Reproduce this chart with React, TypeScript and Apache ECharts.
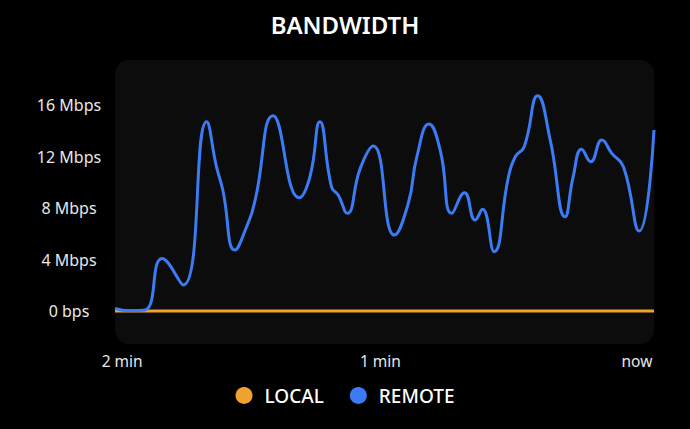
import React, { useEffect, useRef } from "react";
import * as echarts from "echarts";

const timeSeconds = [
  0, 3.3, 6.7, 10.5, 15.2, 20.4, 22.6, 24.0, 26.7, 29.3, 31.2, 35.2, 41.0, 43.4, 45.6,
  48.2, 49.7, 51.7, 54.6, 57.5, 62.2, 65.3, 67.2, 69.9, 72.4, 75.0, 77.8, 80.2, 81.8,
  84.4, 87.6, 89.1, 91.1, 94.1, 96.9, 100.2, 102.0, 103.9, 105.9, 108.4, 110.6, 113.2,
  116.7, 120,
];
const remoteMbps = [
  0.21, 0.02, 0.08, 4.09, 2.02, 14.7, 11.2, 9.4, 4.74, 6.55, 8.62, 15.17, 8.8, 10.43, 14.7,
  9.65, 9.01, 7.59, 11.08, 12.82, 5.9, 8.37, 11.98, 14.52, 12.5, 7.59, 9.19, 7.07, 7.9,
  4.61, 10.43, 11.98, 12.76, 16.72, 13.28, 7.32, 10.43, 12.56, 11.6, 13.28, 12.25, 11.21,
  6.21, 14.06,
];
const localMbps = timeSeconds.map(() => 0);

const xTickValues = [1.6, 59.1, 116.2];
const xTickLabels = ["2 min", "1 min", "now"];
const yTickValues = [0, 4, 8, 12, 16];

const seriesNames = ["LOCAL", "REMOTE"];
const seriesColors = ["#efa22e", "#3b7cf6"];

export default function App() {
  const ref = useRef<HTMLDivElement>(null);
  useEffect(() => {
    if (!ref.current) return;
    const chart = echarts.init(ref.current, null, { renderer: "svg" });
    const font = "Noto Sans";
    chart.setOption({
      animation: false,
      backgroundColor: "#000000",
      title: {
        text: "BANDWIDTH",
        left: "center",
        top: 7,
        textStyle: { color: "#ffffff", fontSize: 24, fontWeight: 600, fontFamily: font },
      },
      legend: {
        data: seriesNames,
        bottom: 19,
        left: "center",
        icon: "circle",
        itemWidth: 17,
        itemHeight: 17,
        itemGap: 26,
        textStyle: {
          color: "#ffffff",
          fontSize: 19,
          fontFamily: font,
          fontWeight: 500,
          padding: [0, 0, 0, 7],
        },
      },
      graphic: [
        {
          type: "rect",
          z: -10,
          silent: true,
          shape: { x: 115, y: 60, width: 539, height: 284, r: 14 },
          style: { fill: "#0c0c0c" },
        },
      ],
      grid: { left: 115, right: 36, top: 60, bottom: 85 },
      xAxis: {
        type: "value",
        min: 0,
        max: 120,
        axisLine: { show: false },
        axisTick: { show: false },
        splitLine: { show: false },
        axisLabel: {
          customValues: xTickValues,
          color: "#e8e8e8",
          fontSize: 15.5,
          fontFamily: font,
          margin: 9,
          formatter: (v: number) => {
            const i = xTickValues.findIndex((x) => Math.abs(x - v) < 1e-6);
            return i >= 0 ? xTickLabels[i] : "";
          },
        },
      },
      yAxis: {
        type: "value",
        min: -2.56,
        max: 19.5,
        axisLine: { show: false },
        axisTick: { show: false },
        splitLine: { show: false },
        axisLabel: {
          customValues: yTickValues,
          color: "#e8e8e8",
          fontSize: 16,
          fontFamily: font,
          margin: 46,
          align: "center",
          formatter: (v: number) => (v === 0 ? "0 bps" : `${v} Mbps`),
        },
      },
      series: [
        {
          name: seriesNames[0],
          type: "line",
          data: timeSeconds.map((t, i) => [t, localMbps[i]]),
          showSymbol: false,
          color: seriesColors[0],
          lineStyle: { width: 3, color: seriesColors[0] },
        },
        {
          name: seriesNames[1],
          type: "line",
          data: timeSeconds.map((t, i) => [t, remoteMbps[i]]),
          showSymbol: false,
          smooth: 0.5,
          color: seriesColors[1],
          lineStyle: { width: 3, color: seriesColors[1] },
        },
      ],
    });
    return () => chart.dispose();
  }, []);
  return (
    <div
      ref={ref}
      style={{ position: "fixed", left: 0, top: 0, width: 690, height: 429, background: "#000" }}
    />
  );
}
